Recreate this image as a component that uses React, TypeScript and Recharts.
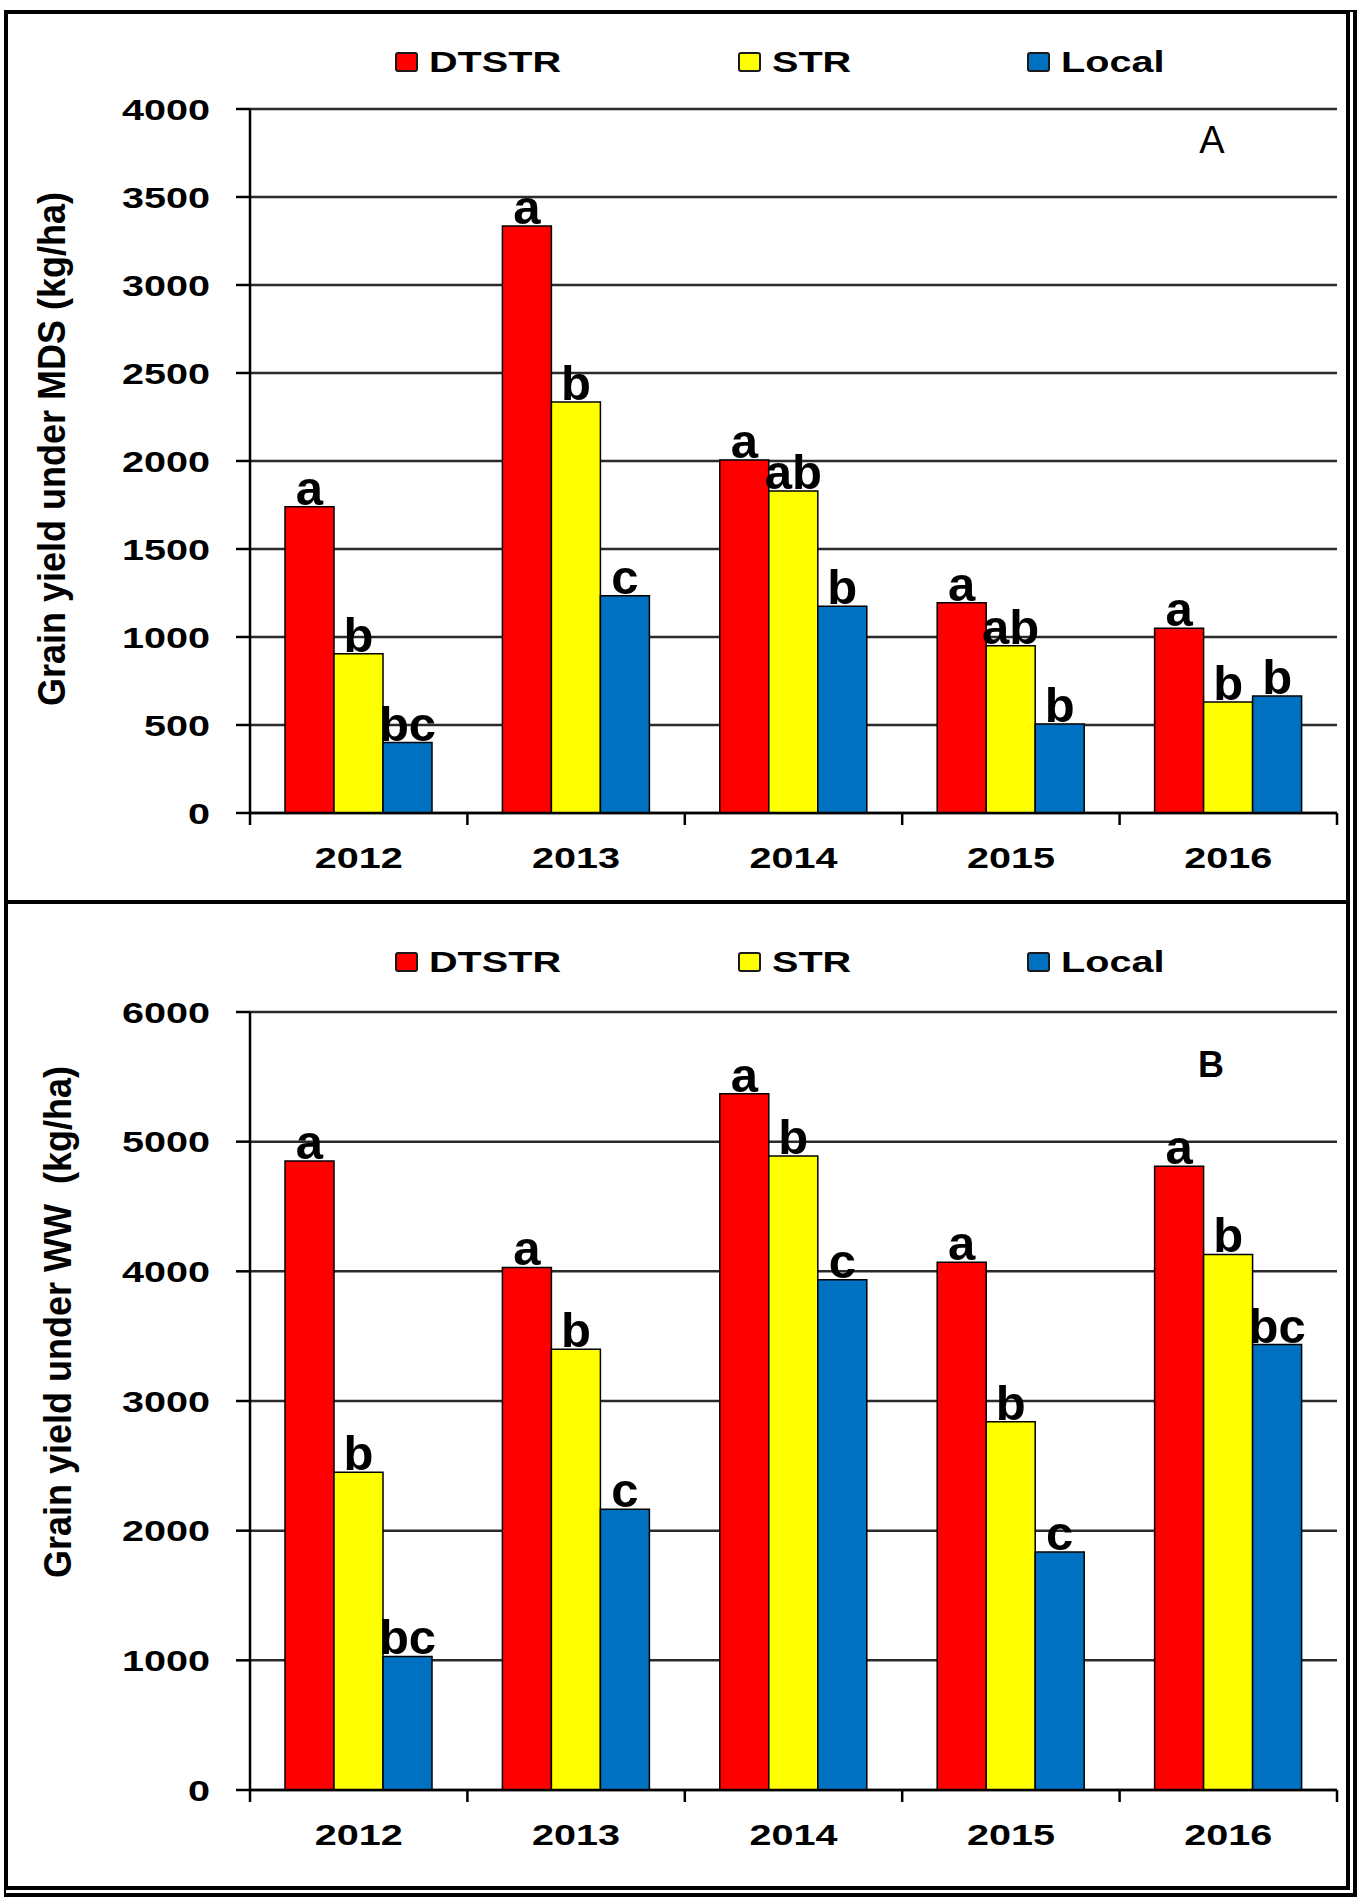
import React from 'react';
import { BarChart, Bar, XAxis, YAxis, CartesianGrid, LabelList, Legend } from 'recharts';

const years = ['2012', '2013', '2014', '2015', '2016'];
const seriesNames = ['DTSTR', 'STR', 'Local'];
const seriesColors = ['#FF0000', '#FFFF00', '#0070C0'];

const mdsDTSTR = [1740, 3335, 2005, 1195, 1050];
const mdsSTR = [905, 2335, 1830, 950, 630];
const mdsLocal = [400, 1235, 1175, 505, 665];
const mdsDTSTRLetters = ['a', 'a', 'a', 'a', 'a'];
const mdsSTRLetters = ['b', 'b', 'ab', 'ab', 'b'];
const mdsLocalLetters = ['bc', 'c', 'b', 'b', 'b'];
const mdsTicks = [0, 500, 1000, 1500, 2000, 2500, 3000, 3500, 4000];

const wwDTSTR = [4850, 4030, 5370, 4070, 4810];
const wwSTR = [2450, 3400, 4890, 2840, 4130];
const wwLocal = [1030, 2165, 3935, 1835, 3435];
const wwDTSTRLetters = ['a', 'a', 'a', 'a', 'a'];
const wwSTRLetters = ['b', 'b', 'b', 'b', 'b'];
const wwLocalLetters = ['bc', 'c', 'c', 'c', 'bc'];
const wwTicks = [0, 1000, 2000, 3000, 4000, 5000, 6000];

const FONT = '"Liberation Sans", Arial, sans-serif';
const STRETCH = 1.32;

function buildRows(a: number[], b: number[], c: number[], la: string[], lb: string[], lc: string[]) {
  return years.map((year, i) => ({
    year,
    DTSTR: a[i],
    STR: b[i],
    Local: c[i],
    DTSTR_l: la[i],
    STR_l: lb[i],
    Local_l: lc[i],
  }));
}

const mdsRows = buildRows(mdsDTSTR, mdsSTR, mdsLocal, mdsDTSTRLetters, mdsSTRLetters, mdsLocalLetters);
const wwRows = buildRows(wwDTSTR, wwSTR, wwLocal, wwDTSTRLetters, wwSTRLetters, wwLocalLetters);

const YTick = (props: any) => {
  const { x, y, payload } = props;
  return (
    <text
      transform={`translate(${x},${y}) scale(${STRETCH},1)`}
      textAnchor="end"
      dy="0.35em"
      fontFamily={FONT}
      fontWeight="bold"
      fontSize={30}
      fill="#000"
    >
      {payload.value}
    </text>
  );
};

const XTick = (props: any) => {
  const { x, y, payload, index, visibleTicksCount } = props;
  const half = payload && typeof payload.offset === 'number' ? payload.offset : 0;
  const isLast = index === (visibleTicksCount ?? years.length) - 1;
  return (
    <g>
      {half > 0 && <line x1={x - half} x2={x - half} y1={y} y2={y + 12} stroke="#000" strokeWidth={2.5} />}
      {half > 0 && isLast && <line x1={x + half} x2={x + half} y1={y} y2={y + 12} stroke="#000" strokeWidth={2.5} />}
      <text
        transform={`translate(${x},${y + 44}) scale(${STRETCH},1)`}
        textAnchor="middle"
        dy="0.35em"
        fontFamily={FONT}
        fontWeight="bold"
        fontSize={30}
        fill="#000"
      >
        {payload.value}
      </text>
    </g>
  );
};

const LetterLabel = (props: any) => {
  const { x, y, width, value } = props;
  return (
    <text
      x={Number(x) + Number(width) / 2}
      y={Number(y) - 2}
      textAnchor="middle"
      fontFamily={FONT}
      fontWeight="bold"
      fontSize={49}
      fill="#000"
    >
      {value}
    </text>
  );
};

const legendLefts = [395, 738, 1027];

const LegendContent = (props: any) => {
  const raw = props.payload || [];
  const items = seriesNames
    .map((n) => raw.find((it: any) => it.value === n))
    .filter(Boolean);
  return (
    <div style={{ position: 'relative', width: 1358, height: 40 }}>
      {items.map((it: any, i: number) => (
        <div
          key={it.value}
          style={{ position: 'absolute', left: legendLefts[i], top: 0, height: 40, display: 'flex', alignItems: 'center' }}
        >
          <span
            style={{
              display: 'inline-block',
              width: 23,
              height: 20,
              background: it.color,
              border: '2px solid #1a1a1a',
              boxSizing: 'border-box',
              borderRadius: 3,
            }}
          />
          <span
            style={{
              display: 'inline-block',
              marginLeft: 11,
              fontFamily: FONT,
              fontWeight: 'bold',
              fontSize: 30,
              lineHeight: '40px',
              color: '#000',
              transform: `scaleX(${STRETCH})`,
              transformOrigin: 'left center',
              whiteSpace: 'nowrap',
            }}
          >
            {it.value}
          </span>
        </div>
      ))}
    </div>
  );
};

type PanelProps = {
  rows: any[];
  ticks: number[];
  max: number;
  height: number;
  plotTop: number;
  plotBottom: number;
  legendTop: number;
};

function Panel({ rows, ticks, max, height, plotTop, plotBottom, legendTop }: PanelProps) {
  const xAxisHeight = 60;
  return (
    <BarChart
      width={1358}
      height={height}
      data={rows}
      margin={{ top: plotTop, right: 21, bottom: height - plotBottom - xAxisHeight, left: 0 }}
      barCategoryGap={35}
      barGap={0}
    >
      <CartesianGrid vertical={false} stroke="#2a2a2a" strokeWidth={2.5} />
      <Legend
        layout="horizontal"
        verticalAlign="middle"
        align="center"
        wrapperStyle={{ top: legendTop, left: 0, width: 1358 }}
        content={<LegendContent />}
      />
      <XAxis
        dataKey="year"
        height={xAxisHeight}
        axisLine={{ stroke: '#000', strokeWidth: 2.5 }}
        tickLine={false}
        tickSize={0}
        tickMargin={0}
        interval={0}
        tick={<XTick />}
      />
      <XAxis
        xAxisId="top"
        dataKey="year"
        orientation="top"
        height={0}
        tick={false}
        tickLine={false}
        axisLine={{ stroke: '#8c8c8c', strokeWidth: 3 }}
      />
      <YAxis
        type="number"
        domain={[0, max]}
        ticks={ticks}
        interval={0}
        width={250}
        tickSize={14}
        tickMargin={26}
        axisLine={{ stroke: '#000', strokeWidth: 2.5 }}
        tickLine={{ stroke: '#000', strokeWidth: 2.5 }}
        tick={<YTick />}
      />
      <YAxis
        yAxisId="right"
        orientation="right"
        type="number"
        domain={[0, max]}
        width={0}
        tick={false}
        tickLine={false}
        axisLine={{ stroke: '#8c8c8c', strokeWidth: 3 }}
      />
      {seriesNames.map((name, i) => (
        <Bar
          key={name}
          dataKey={name}
          name={name}
          fill={seriesColors[i]}
          stroke="#000"
          strokeWidth={1.5}
          isAnimationActive={false}
        >
          <LabelList dataKey={`${name}_l`} content={<LetterLabel />} />
        </Bar>
      ))}
    </BarChart>
  );
}

const yLabelStyle = (x: number, y: number): React.CSSProperties => ({
  position: 'absolute',
  left: x,
  top: y,
  transform: 'translate(-50%, -50%) rotate(-90deg) scaleY(1.1)',
  fontFamily: FONT,
  fontWeight: 'bold',
  fontSize: 36,
  lineHeight: 1,
  whiteSpace: 'pre',
  color: '#000',
});

export default function App() {
  return (
    <div style={{ position: 'absolute', left: 0, top: 0, width: 1358, height: 1903, background: '#fff', overflow: 'hidden' }}>
      <div
        style={{
          position: 'absolute',
          left: 4,
          top: 10,
          width: 1353,
          height: 1887,
          boxSizing: 'border-box',
          borderStyle: 'solid double double solid',
          borderWidth: '4px 11px 11px 4px',
          borderColor: '#000',
        }}
      />
      <div style={{ position: 'absolute', left: 4, top: 900, width: 1346, height: 4, background: '#000' }} />

      <div style={{ position: 'absolute', left: 0, top: 0, width: 1358, height: 900 }}>
        <Panel rows={mdsRows} ticks={mdsTicks} max={4000} height={900} plotTop={109} plotBottom={813} legendTop={42} />
      </div>
      <div style={{ position: 'absolute', left: 0, top: 902, width: 1358, height: 990 }}>
        <Panel rows={wwRows} ticks={wwTicks} max={6000} height={990} plotTop={110} plotBottom={888} legendTop={40} />
      </div>

      <div style={yLabelStyle(52, 449)}>Grain yield under MDS (kg/ha)</div>
      <div style={yLabelStyle(58, 1322)}>{'Grain yield under WW  (kg/ha)'}</div>

      <div
        style={{
          position: 'absolute',
          left: 1212,
          top: 140,
          transform: 'translate(-50%, -50%)',
          fontFamily: FONT,
          fontSize: 38,
          lineHeight: 1,
          color: '#000',
        }}
      >
        A
      </div>
      <div
        style={{
          position: 'absolute',
          left: 1211,
          top: 1065,
          transform: 'translate(-50%, -50%)',
          fontFamily: FONT,
          fontWeight: 'bold',
          fontSize: 36,
          lineHeight: 1,
          color: '#000',
        }}
      >
        B
      </div>
    </div>
  );
}
